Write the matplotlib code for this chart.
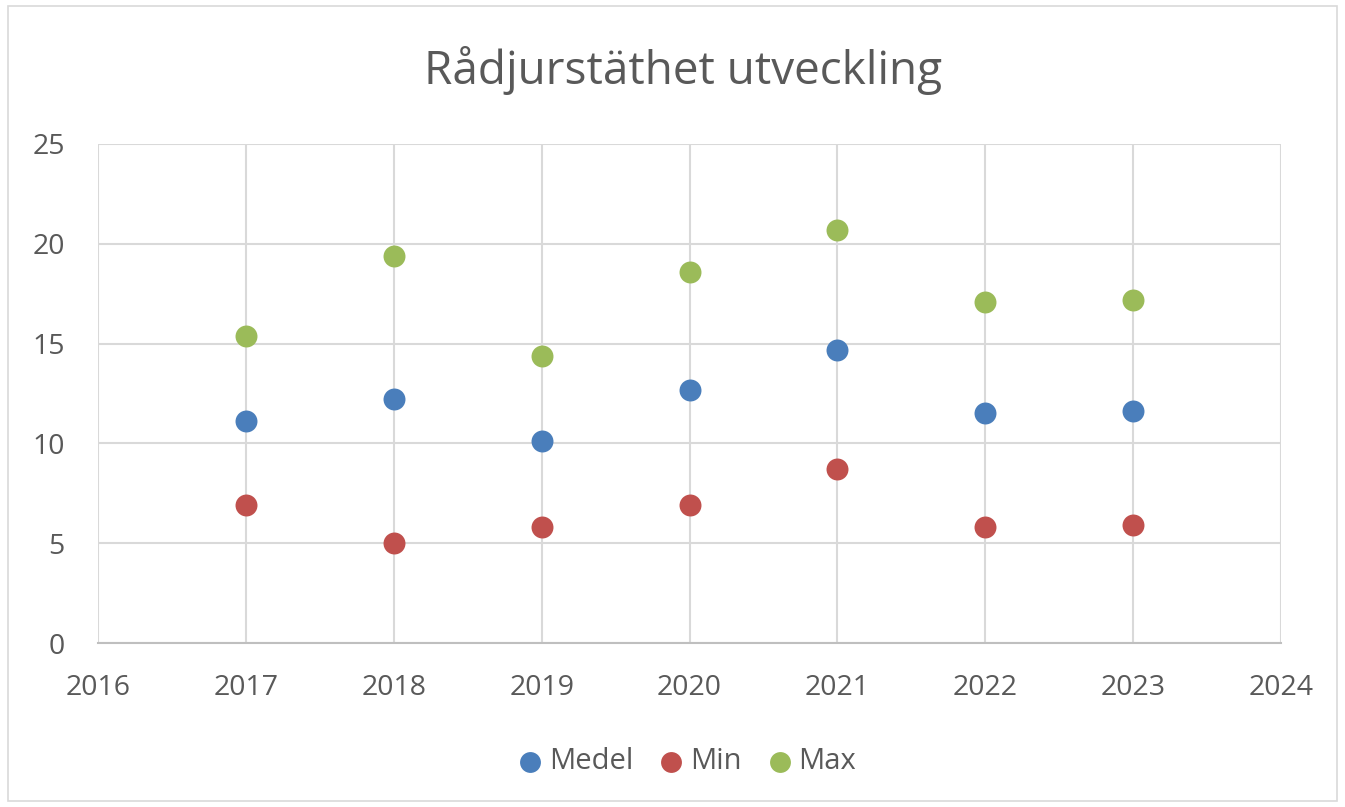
import matplotlib
matplotlib.use("Agg")
import matplotlib.pyplot as plt
from matplotlib.patches import Rectangle

years = [2017, 2018, 2019, 2020, 2021, 2022, 2023]
medel = [11.1, 12.2, 10.1, 12.7, 14.7, 11.5, 11.6]
min_v = [6.9, 5.0, 5.8, 6.9, 8.7, 5.8, 5.9]
max_v = [15.4, 19.4, 14.4, 18.6, 20.7, 17.1, 17.2]
series_names = ["Medel", "Min", "Max"]
colors = ["#4A7EBB", "#C0504D", "#9BBB59"]
x_ticks = list(range(2016, 2025))
y_ticks = [0, 5, 10, 15, 20, 25]
title = "Rådjurstäthet utveckling"

plt.rcParams['font.family'] = ['Open Sans', 'DejaVu Sans']
txt = "#595959"

fig = plt.figure(figsize=(13.45, 8.07), dpi=100)
fig.patches.append(Rectangle((0.006, 0.008), 0.988, 0.985, transform=fig.transFigure,
                             fill=False, edgecolor="#D9D9D9", linewidth=1.2))
ax = fig.add_axes([0.0729, 0.2032, 0.8795, 0.6184])

for vals, name, c in zip([medel, min_v, max_v], series_names, colors):
    ax.scatter(years, vals, s=250, color=c, label=name, zorder=3, linewidths=0)

ax.set_xlim(2016, 2024)
ax.set_ylim(0, 25)
ax.set_xticks(x_ticks)
ax.set_yticks(y_ticks)
ax.grid(True, color="#D9D9D9", linewidth=1.5)
ax.set_axisbelow(True)
for s in ["top", "right", "left"]:
    ax.spines[s].set_visible(False)
ax.spines["bottom"].set_color("#BFBFBF")
ax.spines["bottom"].set_linewidth(1.5)
ax.tick_params(axis="both", length=0, labelsize=20.5, colors=txt)
ax.tick_params(axis="x", pad=22)
ax.tick_params(axis="y", pad=24)

fig.text(0.5075, 0.913, title, ha="center", va="center", fontsize=33, color=txt)
fig.legend(loc="center", bbox_to_anchor=(0.511, 0.056), ncol=3, frameon=False,
           fontsize=21, labelcolor=txt, handlelength=0.8, handletextpad=0.25,
           columnspacing=0.9, markerscale=0.95)

fig.savefig("out.png", dpi=100)
